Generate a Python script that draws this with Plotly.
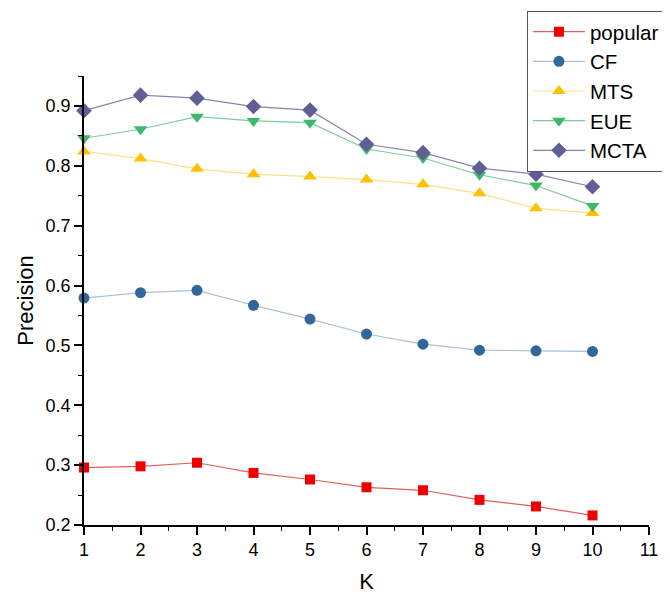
import plotly.graph_objects as go

K = [1, 2, 3, 4, 5, 6, 7, 8, 9, 10]
popular = [0.296, 0.298, 0.304, 0.287, 0.276, 0.263, 0.258, 0.242, 0.231, 0.216]
CF = [0.579, 0.588, 0.592, 0.567, 0.544, 0.519, 0.502, 0.492, 0.491, 0.490]
MTS = [0.824, 0.812, 0.795, 0.786, 0.782, 0.777, 0.769, 0.754, 0.729, 0.721]
EUE = [0.846, 0.861, 0.882, 0.875, 0.872, 0.828, 0.813, 0.785, 0.767, 0.733]
MCTA = [0.892, 0.918, 0.913, 0.899, 0.893, 0.836, 0.822, 0.796, 0.786, 0.765]

series = [
    ("popular", popular, "square", 10, "#EE0000", "#E06060"),
    ("CF", CF, "circle", 11, "#336699", "#A9C0D6"),
    ("MTS", MTS, "triangle-up", 12, "#FFC000", "#F8E08C"),
    ("EUE", EUE, "triangle-down", 12, "#3CB96A", "#7FCC9A"),
    ("MCTA", MCTA, "diamond", 12, "#5F5F96", "#8585AA"),
]

fig = go.Figure()
for name, vals, sym, sz, mc, lc in series:
    fig.add_trace(go.Scatter(
        x=K, y=vals, name=name, mode="lines+markers",
        line=dict(color=lc, width=1.2),
        marker=dict(symbol=sym, color=mc, size=sz, line=dict(width=0)),
        cliponaxis=False,
    ))

fam = "Liberation Sans, Arial"
axis_font = dict(family=fam, size=18, color="#000")
# page body has an 8px margin, so the figure is sized/offset to compensate
fig.update_layout(
    width=662, height=587,
    margin=dict(l=76, r=21, t=68, b=70, autoexpand=False),
    paper_bgcolor="white", plot_bgcolor="white",
    font=dict(family=fam, color="#000"),
    showlegend=True,
    legend=dict(
        x=0.784, y=1.145, xanchor="left", yanchor="top",
        bgcolor="white", bordercolor="#555", borderwidth=1,
        font=dict(family=fam, size=20.5, color="#000"),
        tracegroupgap=0, itemwidth=52,
    ),
    xaxis=dict(
        range=[1, 11], tickmode="linear", tick0=1, dtick=1, automargin=False,
        showgrid=False, zeroline=False, showline=True, linecolor="#000", linewidth=1.5,
        ticks="outside", ticklen=8, tickwidth=1.5, tickcolor="#000",
        minor=dict(ticks="outside", ticklen=4, tickwidth=1.2, dtick=0.5, tick0=1, tickcolor="#000"),
        tickfont=axis_font,
        title=dict(text="K", font=dict(family=fam, size=22), standoff=14),
    ),
    yaxis=dict(
        range=[0.2, 0.95], tickmode="linear", tick0=0.2, dtick=0.1, tickformat=".1f",
        automargin=False,
        showgrid=False, zeroline=False, showline=True, linecolor="#000", linewidth=1.5,
        ticks="outside", ticklen=8, tickwidth=1.5, tickcolor="#000",
        minor=dict(ticks="outside", ticklen=4, tickwidth=1.2, dtick=0.05, tick0=0.2, tickcolor="#000"),
        tickfont=axis_font,
        title=dict(text="Precision", font=dict(family=fam, size=22), standoff=6),
    ),
)

fig.write_html("out.html")
